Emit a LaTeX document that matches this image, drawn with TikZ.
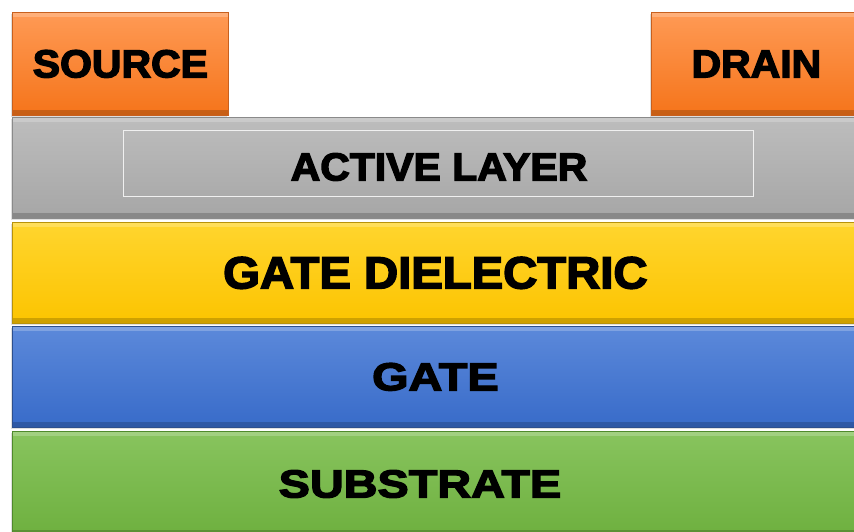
\documentclass[tikz,border=0pt]{standalone}
\usepackage{fontspec}
\setmainfont{Liberation Sans}
\newfontfamily\normface{Liberation Sans}[UprightFont=*-Bold, FakeBold=3.5, FakeStretch=1.05]
\newfontfamily\wideface{Liberation Sans}[UprightFont=*-Bold, FakeBold=3.5, FakeStretch=1.2]
\usepackage{xcolor}
\definecolor{contact-top}{HTML}{FF9A55}
\definecolor{contact-bottom}{HTML}{F5741A}
\definecolor{contact-border}{HTML}{C8601E}
\definecolor{active-top}{HTML}{BDBDBD}
\definecolor{active-bottom}{HTML}{A6A6A6}
\definecolor{active-border}{HTML}{8A8A8A}
\definecolor{diel-top}{HTML}{FFD52E}
\definecolor{diel-bottom}{HTML}{FCC400}
\definecolor{diel-border}{HTML}{B8920A}
\definecolor{gate-top}{HTML}{5C89DA}
\definecolor{gate-bottom}{HTML}{386BC9}
\definecolor{gate-border}{HTML}{2C4F8E}
\definecolor{sub-top}{HTML}{88C45E}
\definecolor{sub-bottom}{HTML}{6EB03F}
\definecolor{sub-border}{HTML}{4F8A2C}
\usepackage{tikz}
\usetikzlibrary{
  positioning,
  shadows
}

\begin{document}
\begin{tikzpicture}[
    x=1pt, y=-1pt,
    layer/.style n args={3}{
      rectangle,
      anchor=north west,
      inner sep=0pt,
      draw=#3,
      top color=#1,
      bottom color=#2,
      line width=0.8pt,
      font=\fontsize{39}{40}\normface,
      text=black,
      align=center,
      drop shadow={shadow xshift=-1.5pt, shadow yshift=-1.5pt, opacity=0.25},
      path picture={
        \fill[white, opacity=0.22] (path picture bounding box.north west)
          rectangle ([yshift=-5pt]path picture bounding box.north east);
        \fill[black, opacity=0.18] (path picture bounding box.south west)
          rectangle ([yshift=5pt]path picture bounding box.south east);
      }
    },
    contact/.style={
      layer={contact-top}{contact-bottom}{contact-border},
      minimum width=216pt,
      minimum height=103pt
    },
    stack/.style={
      minimum width=846pt,
      minimum height=101pt
    },
    caption/.style={
      font=\fontsize{39}{40}\normface
    }
  ]
    \useasboundingbox (0, 0) rectangle (854, 531);

    % contacts on top
    \node[contact] (source) at (12, 12) {SOURCE};
    \node[contact, minimum width=210pt] (drain) at (651, 12) {DRAIN};

    % layer stack, top to bottom
    \node[layer={active-top}{active-bottom}{active-border}, stack] (active) at (12, 117) {};
    \node[rectangle, draw=white!88!gray, line width=0.5pt, inner sep=0pt,
          minimum width=630pt, minimum height=66pt, anchor=north west] (activein) at (123, 130) {};
    \node[caption] (activetxt) at (439, 167) {ACTIVE LAYER};

    \node[layer={diel-top}{diel-bottom}{diel-border}, stack,
          font=\fontsize{45}{48}\normface] (diel) at (12, 222) {GATE DIELECTRIC};
    \node[layer={gate-top}{gate-bottom}{gate-border}, stack,
          font=\fontsize{39}{40}\wideface] (gate) at (12, 326) {GATE};
    \node[layer={sub-top}{sub-bottom}{sub-border}, stack, minimum height=104pt] (sub) at (12, 431) {};
    \node[caption, font=\fontsize{39}{40}\wideface] (subtxt) at (420, 484) {SUBSTRATE};
  \end{tikzpicture}
\end{document}
